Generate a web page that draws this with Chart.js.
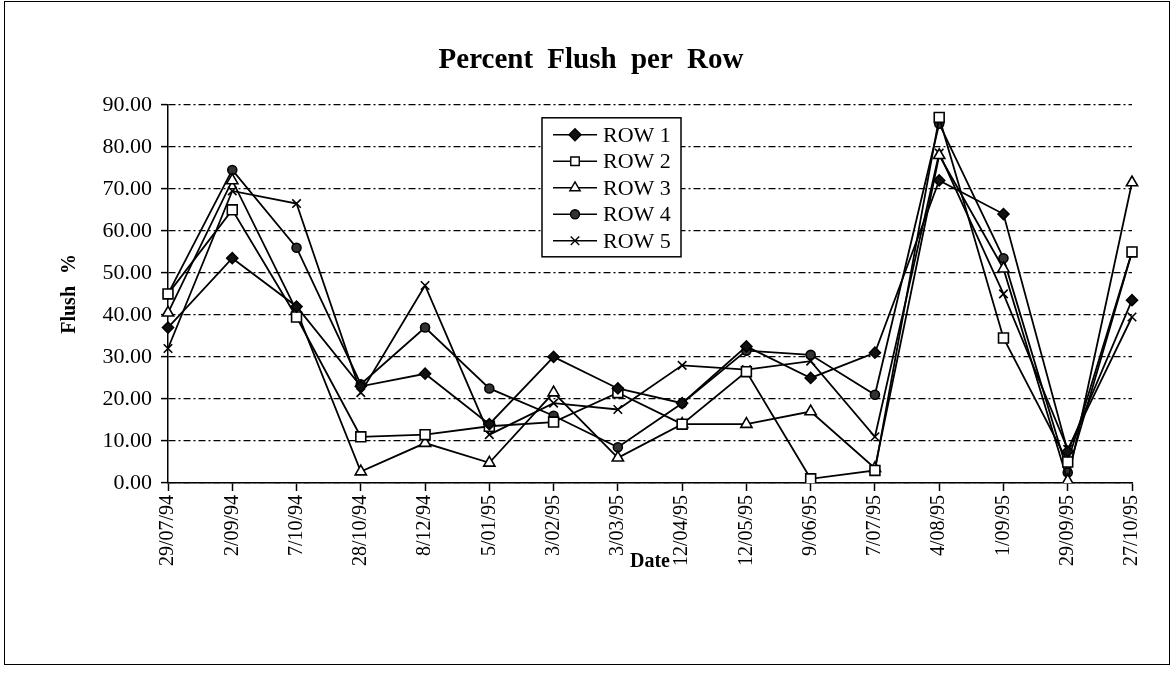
<!DOCTYPE html>
<html>
<head>
<meta charset="utf-8">
<title>Percent Flush per Row</title>
<script src="https://cdn.jsdelivr.net/npm/chart.js@4.4.1/dist/chart.umd.min.js"></script>
<style>
  html, body { margin: 0; padding: 0; background: #fff; }
  #wrap { position: relative; width: 1173px; height: 679px; }
  #frame { position: absolute; left: 4px; top: 1px; width: 1166px; height: 664px; border: 1.5px solid #000; box-sizing: border-box; }
  #flushChart { position: absolute; left: 0; top: 0; }
</style>
</head>
<body>
<div id="wrap">
  <div id="frame"></div>
  <canvas id="flushChart" width="1173" height="679"></canvas>
</div>
<script>
// sample dates
const dates = ['29/07/94', '2/09/94', '7/10/94', '28/10/94', '8/12/94', '5/01/95', '3/02/95', '3/03/95',
  '12/04/95', '12/05/95', '9/06/95', '7/07/95', '4/08/95', '1/09/95', '29/09/95', '27/10/95'];

// percent flush for each row
const row1 = [37, 53.5, 42, 23, 26, 14, 30, 22.5, 19, 32.5, 25, 31, 72, 64, 7.5, 43.5];
const row2 = [45, 65, 39.5, 11, 11.5, 13.5, 14.5, 21.5, 14, 26.5, 1, 3, 87, 34.5, 5, 55];
const row3 = [40.5, 72, 41, 2.7, 9.5, 4.8, 21.5, 6, 14, 14, 17, 3.5, 78, 51, 0.5, 71.5];
const row4 = [45, 74.5, 56, 23.5, 37, 22.5, 16, 8.5, 19, 31.5, 30.5, 21, 85.5, 53.5, 2.5, 55];
const row5 = [32, 69.5, 66.5, 21.5, 47, 11.5, 19, 17.5, 28, 27, 29, 11, 78.5, 45, 8, 39.5];

const flushTicks = [0, 10, 20, 30, 40, 50, 60, 70, 80, 90];

const serif = '"Liberation Serif", "Times New Roman", serif';

function rowSet(label, data, style, radius, fill) {
  return {
    label: label,
    data: data,
    borderColor: '#000',
    borderWidth: 1.8,
    pointStyle: style,
    pointRadius: radius,
    pointBackgroundColor: fill,
    pointBorderColor: '#000',
    pointBorderWidth: 1.6,
    tension: 0,
    fill: false
  };
}

// slightly wider gaps between words for the title and axis titles
const wideWords = {
  id: 'wideWords',
  beforeDraw(chart) { chart.ctx.wordSpacing = '7px'; },
  beforeDatasetsDraw(chart) { chart.ctx.wordSpacing = '0px'; }
};

// boxed legend sitting inside the plot area
const boxLegend = {
  id: 'boxLegend',
  afterDatasetsDraw(chart) {
    const ctx = chart.ctx;
    const area = chart.chartArea;
    const x = area.left + 374, y = area.top + 13, w = 139, h = 139;
    ctx.save();
    ctx.fillStyle = '#fff';
    ctx.fillRect(x, y, w, h);
    ctx.strokeStyle = '#000';
    ctx.lineWidth = 1.5;
    ctx.strokeRect(x, y, w, h);
    ctx.font = '22px ' + serif;
    ctx.textBaseline = 'middle';
    chart.data.datasets.forEach((ds, i) => {
      const ly = y + 17 + i * 26.5;
      ctx.strokeStyle = '#000';
      ctx.lineWidth = 1.6;
      ctx.beginPath();
      ctx.moveTo(x + 11, ly);
      ctx.lineTo(x + 55, ly);
      ctx.stroke();
      ctx.fillStyle = ds.pointBackgroundColor;
      ctx.lineWidth = 1.4;
      if (Chart.helpers && Chart.helpers.drawPoint) {
        Chart.helpers.drawPoint(ctx, {
          pointStyle: ds.pointStyle,
          radius: ds.pointStyle === 'circle' ? 4.5 : 6,
          rotation: 0,
          borderWidth: 1.4
        }, x + 33, ly);
      }
      ctx.fillStyle = '#000';
      ctx.fillText(ds.label, x + 61, ly + 1);
    });
    ctx.restore();
  }
};

new Chart(document.getElementById('flushChart'), {
  type: 'line',
  data: {
    labels: dates,
    datasets: [
      rowSet('ROW 1', row1, 'rectRot', 5.5, '#111'),
      rowSet('ROW 2', row2, 'rect', 7, '#fff'),
      rowSet('ROW 3', row3, 'triangle', 6.5, '#fff'),
      rowSet('ROW 4', row4, 'circle', 4.5, '#333'),
      rowSet('ROW 5', row5, 'crossRot', 6, '#000')
    ]
  },
  options: {
    responsive: false,
    animation: false,
    devicePixelRatio: 1,
    layout: { padding: { top: 20, left: 50, right: 41, bottom: 97 } },
    plugins: {
      legend: { display: false },
      tooltip: { enabled: false },
      title: {
        display: true,
        text: 'Percent Flush per Row',
        color: '#000',
        font: { family: serif, size: 29, weight: 'bold' },
        padding: { top: 23, bottom: 27 }
      }
    },
    scales: {
      x: {
        offset: false,
        ticks: {
          color: '#000',
          font: { family: serif, size: 20 },
          maxRotation: 90,
          minRotation: 90,
          autoSkip: false,
          padding: 4
        },
        grid: { display: true, drawOnChartArea: false, tickLength: 8, color: '#000', tickColor: '#000', tickWidth: 1.5 },
        border: { display: true, color: '#000', width: 1.5 },
        title: {
          display: true,
          text: 'Date',
          color: '#000',
          font: { family: serif, size: 20, weight: 'bold' },
          padding: { top: 0, bottom: 8 }
        },
        afterFit: s => { s.height = 99; }
      },
      y: {
        min: 0,
        max: 90,
        afterBuildTicks: s => { s.ticks = flushTicks.map(v => ({ value: v })); },
        ticks: {
          color: '#000',
          font: { family: serif, size: 22 },
          padding: 9,
          callback: v => Number(v).toFixed(2)
        },
        grid: { color: '#000', lineWidth: 1.2, tickLength: 7, tickColor: '#000', tickWidth: 1.5 },
        border: { display: true, color: '#000', width: 1.5, dash: [7, 3, 2, 3] },
        title: {
          display: true,
          text: 'Flush %',
          color: '#000',
          font: { family: serif, size: 20, weight: 'bold' },
          padding: { top: 8, bottom: 0 }
        },
        afterFit: s => { s.width = 118; }
      }
    }
  },
  plugins: [wideWords, boxLegend]
});
</script>
</body>
</html>
